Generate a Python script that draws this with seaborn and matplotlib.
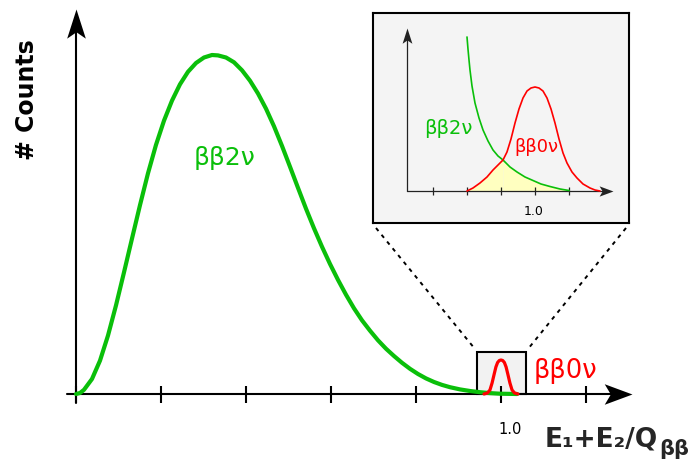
import matplotlib
matplotlib.use("Agg")
import matplotlib.pyplot as plt
import seaborn as sns
from matplotlib.path import Path
from matplotlib.patches import Rectangle

# ---------------- data ----------------
# main spectrum: x = (E1+E2)/Qbb, y = counts (arbitrary units)
two_nu_x = [0.0000, 0.0094, 0.0188, 0.0376, 0.0565, 0.0753, 0.0941, 0.1129, 0.1318, 0.1506,
            0.1694, 0.1882, 0.2071, 0.2259, 0.2447, 0.2635, 0.2824, 0.3012, 0.3200, 0.3341,
            0.3529, 0.3718, 0.3906, 0.4094, 0.4282, 0.4471, 0.4659, 0.4847, 0.5035, 0.5224,
            0.5412, 0.5600, 0.5788, 0.5976, 0.6165, 0.6353, 0.6541, 0.6729, 0.6918, 0.7106,
            0.7294, 0.7482, 0.7671, 0.7859, 0.8047, 0.8235, 0.8424, 0.8612, 0.8800, 0.9035,
            0.9271, 0.9506, 0.9741, 0.9976, 1.0376]
two_nu_y = [0, 1, 4.2, 15.0, 33.4, 58.5, 88.6, 121.6, 155.5, 188.9,
            220.7, 249.1, 273.4, 293.4, 309.7, 322.2, 331.0, 336.5, 339.0, 338.6,
            336.5, 331.7, 323.7, 313.3, 300.5, 285.3, 267.7, 248.1, 227.3, 206.1,
            185.3, 165.7, 147.3, 130.1, 114.1, 99.3, 85.7, 73.7, 63.3, 53.7,
            45.3, 38.0, 31.2, 25.2, 20.0, 15.6, 12.0, 9.1, 6.8, 4.6,
            3.0, 1.8, 0.9, 0.3, 0]
zero_nu_x = [0.960, 0.968, 0.974, 0.979, 0.984, 0.988, 0.992, 0.996, 1.000,
             1.004, 1.008, 1.012, 1.016, 1.021, 1.026, 1.032, 1.040]
zero_nu_y = [0, 1, 4, 11, 20, 27, 31.5, 33.5, 34,
             33.5, 31.5, 27, 20, 11, 4, 1, 0]
main_ticks = [0.0, 0.2, 0.4, 0.6, 0.8, 1.0, 1.2]

# zoomed inset around Qbb
inset_two_nu_x = [0.98000, 0.98029, 0.98059, 0.98088, 0.98147, 0.98235, 0.98353,
                  0.98471, 0.98618, 0.98765, 0.98912, 0.99059, 0.99265, 0.99471,
                  0.99706, 0.99941, 1.00176, 1.00441, 1.00735, 1.01000]
inset_two_nu_y = [154, 142, 131, 121, 105, 88, 73,
                  61, 50, 41, 35, 31, 24, 19,
                  14, 10.5, 7, 4.5, 2, 0.5]
inset_zero_nu_x = [0.98000, 0.98176, 0.98382, 0.98588, 0.98765, 0.98912, 0.99059,
                   0.99176, 0.99294, 0.99412, 0.99529, 0.99647, 0.99765, 0.99882,
                   1.00000, 1.00118, 1.00235, 1.00353, 1.00471, 1.00588, 1.00706,
                   1.00824, 1.00941, 1.01088, 1.01235, 1.01412, 1.01618, 1.01765,
                   1.01912]
inset_zero_nu_y = [0, 3, 8, 14, 21, 26, 31,
                   39, 52, 68, 82, 93, 100, 103,
                   104, 103, 100, 93, 82, 68, 52,
                   38, 28, 19, 13, 7, 3, 1,
                   0]
inset_ticks = [0.97, 0.98, 0.99, 1.00, 1.01]
crossing_x = 0.99059

GREEN = "#0abf0a"
RED = "#ff0000"
W, H = 693, 459

# ---------------- figure ----------------
sns.set_style("white")
plt.rcParams["font.family"] = ["DejaVu Sans"]
fig = plt.figure(figsize=(W / 100, H / 100), dpi=100)

# main axes fill the whole figure; x=0 at px 76, x=1 at px 501, y=0 at px 394 (1 unit/px)
X0, SX = 76, 425
Y0 = 394
def px2x(px): return (px - X0) / SX
def py2y(py): return Y0 - py

ax = fig.add_axes([0, 0, 1, 1])
ax.set_xlim(px2x(0), px2x(W))
ax.set_ylim(py2y(H), py2y(0))
ax.axis("off")

arrow_right = Path([(0, 0), (-1, 0.37), (-0.78, 0), (-1, -0.37), (0, 0)],
                   [Path.MOVETO, Path.LINETO, Path.LINETO, Path.LINETO, Path.CLOSEPOLY])
arrow_up = Path([(0, 0), (0.32, -1), (0, -0.78), (-0.32, -1), (0, 0)],
                [Path.MOVETO, Path.LINETO, Path.LINETO, Path.LINETO, Path.CLOSEPOLY])

# axes lines with arrows
ax.plot([px2x(67), px2x(612)], [0, 0], color="black", lw=1.5, zorder=2)
ax.plot([px2x(632)], [0], marker=arrow_right, ms=40, color="black", mew=0, zorder=2)
ax.plot([0, 0], [py2y(403), py2y(30)], color="black", lw=1.5, zorder=2)
ax.plot([0], [py2y(9)], marker=arrow_up, ms=42, color="black", mew=0, zorder=2)
ax.vlines(main_ticks, -8.5, 8.5, color="black", lw=1.5, zorder=2)

# zoom box on the main axis + dashed connectors
ax.add_patch(Rectangle((px2x(477), 0), px2x(526) - px2x(477), py2y(352),
                       facecolor="#f2f2f2", edgecolor="black", lw=1.5, zorder=1))
ax.plot([px2x(376), px2x(475)], [py2y(228), py2y(349)], color="black", lw=1.4,
        ls=(0, (2, 2.5)), zorder=1)
ax.plot([px2x(626), px2x(528)], [py2y(228), py2y(349)], color="black", lw=1.4,
        ls=(0, (2, 2.5)), zorder=1)

sns.lineplot(x=two_nu_x, y=two_nu_y, ax=ax, color=GREEN, lw=3, sort=False,
             estimator=None, zorder=3)
sns.lineplot(x=zero_nu_x, y=zero_nu_y, ax=ax, color=RED, lw=2.3, sort=False,
             estimator=None, zorder=4)

def ftext(px, py, s, **kw):
    return fig.text(px / W, 1 - py / H, s, **kw)

ftext(225, 158, "ββ2ν", color=GREEN, fontsize=18, ha="center", va="center")
ftext(565, 371, "ββ0ν", color=RED, fontsize=18.5, ha="center", va="center")
ftext(510, 430, "1.0", color="black", fontsize=10.5, ha="center", va="center")
ftext(27, 100, "# Counts", color="black", fontsize=17, fontweight="bold",
      rotation=90, ha="center", va="center")
t1 = ftext(545, 447, "E₁+E₂/Q", fontsize=19, fontweight="bold",
           ha="left", va="baseline")
fig.canvas.draw()
bb = t1.get_window_extent()
fig.text((bb.x1 + 1) / W, 1 - 455 / H, "ββ", fontsize=15, fontweight="bold",
         ha="left", va="baseline")

# ---------------- inset ----------------
IX0, ISX = 535, 3400   # px of x=1.0, px per unit
IY0 = 191
def ipx2x(px): return 1.0 + (px - IX0) / ISX
def ipy2y(py): return IY0 - py

L, T, R, B = 373, 13, 629, 223
ins = fig.add_axes([L / W, 1 - B / H, (R - L) / W, (B - T) / H])
ins.set_facecolor("#f4f4f4")
ins.set_xlim(ipx2x(L), ipx2x(R))
ins.set_ylim(ipy2y(B), ipy2y(T))
ins.set_xticks([]); ins.set_yticks([])
for sp in ins.spines.values():
    sp.set_visible(True)
    sp.set_color("black")
    sp.set_linewidth(1.5)

AX_C = "#222222"
ins.plot([ipx2x(407), ipx2x(603)], [0, 0], color=AX_C, lw=0.9, zorder=2)
ins.plot([ipx2x(613)], [0], marker=arrow_right, ms=20, color=AX_C, mew=0, zorder=2)
ins.plot([ipx2x(407), ipx2x(407)], [0, ipy2y(39)], color=AX_C, lw=0.9, zorder=2)
ins.plot([ipx2x(407)], [ipy2y(28)], marker=arrow_up, ms=22, color=AX_C, mew=0, zorder=2)
ins.vlines(inset_ticks, -4, 4, color=AX_C, lw=0.9, zorder=2)

# yellow overlap region: under the red curve left of the crossing, under green to the right
rx = [x for x in inset_zero_nu_x if x <= crossing_x]
ry = inset_zero_nu_y[:len(rx)]
gx = [x for x in inset_two_nu_x if x >= crossing_x]
gy = inset_two_nu_y[len(inset_two_nu_x) - len(gx):]
ins.fill_between(rx, 0, ry, color="#ffffc0", lw=0, zorder=1)
ins.fill_between(gx, 0, gy, color="#ffffc0", lw=0, zorder=1)

sns.lineplot(x=inset_two_nu_x, y=inset_two_nu_y, ax=ins, color=GREEN, lw=1.2,
             sort=False, estimator=None, zorder=3)
sns.lineplot(x=inset_zero_nu_x, y=inset_zero_nu_y, ax=ins, color=RED, lw=1.2,
             sort=False, estimator=None, zorder=4)
ins.set_xlabel(""); ins.set_ylabel("")

ftext(448, 128, "ββ2ν", color=GREEN, fontsize=14, ha="center", va="center")
ftext(536, 147, "ββ0ν", color=RED, fontsize=13, ha="center", va="center")
ftext(534, 211, "1.0", color="black", fontsize=9, ha="center", va="center")

fig.savefig("out.png", dpi=100)
